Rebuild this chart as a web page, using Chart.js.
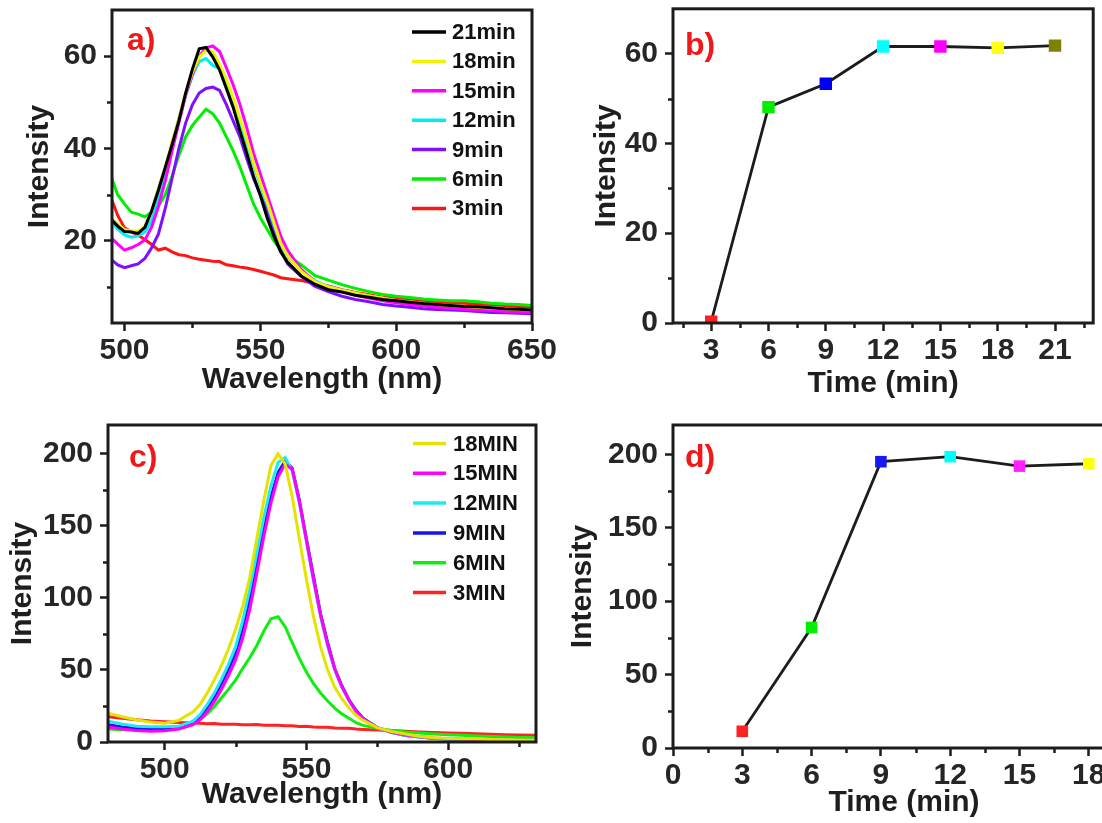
<!DOCTYPE html>
<html>
<head>
<meta charset="utf-8">
<script src="https://cdn.jsdelivr.net/npm/chart.js@4.4.0/dist/chart.umd.min.js"></script>
<style>
  html, body { margin: 0; padding: 0; background: #fff; width: 1102px; height: 823px; overflow: hidden; position: relative; }
  canvas { position: absolute; }
  .tag { position: absolute; color: #f01818; font: bold 32px "Liberation Sans", Arial, sans-serif; line-height: 1; }
</style>
</head>
<body>
<canvas id="chartA" width="560" height="410" style="left:0;top:0"></canvas>
<canvas id="chartB" width="542" height="410" style="left:560px;top:0"></canvas>
<canvas id="chartC" width="560" height="408" style="left:0;top:415px"></canvas>
<canvas id="chartD" width="600" height="408" style="left:560px;top:415px"></canvas>
<div class="tag" style="left:127px;top:23px">a)</div>
<div class="tag" style="left:685px;top:28px">b)</div>
<div class="tag" style="left:129px;top:440px">c)</div>
<div class="tag" style="left:685px;top:440px">d)</div>
<script>
/**
 * Four panels: emission spectra vs time (a, c) and peak intensity vs time (b, d).
 */

// ---- panel a: spectra, 3-21 min ----
const WL_A = [495, 497.5, 500, 502.5, 505, 507.5, 510, 512.5, 515, 517.5, 520, 522.5, 525, 527.5, 530,
  532.5, 535, 537.5, 540, 542.5, 545, 547.5, 550, 552.5, 555, 557.5, 560, 565, 570, 575, 580, 585, 590,
  595, 600, 605, 610, 615, 620, 625, 630, 635, 640, 645, 650];
const A_21MIN = [24.7, 23.2, 22.0, 21.9, 21.6, 22.9, 26.5, 31.0, 35.9, 40.8, 46.0, 52.0, 57.2, 61.6, 61.9,
  59.8, 57.0, 53.0, 48.9, 43.8, 39.0, 34.0, 29.8, 25.0, 21.0, 17.6, 15.4, 12.4, 10.6, 9.4, 8.9, 8.2, 7.8,
  7.3, 7.0, 6.7, 6.4, 6.2, 6.0, 5.8, 5.7, 5.5, 5.3, 5.2, 5.0];
const A_18MIN = [25.0, 23.6, 22.4, 22.2, 22.0, 23.2, 26.5, 31.5, 36.0, 41.5, 46.5, 52.0, 56.5, 59.8, 61.2,
  61.0, 58.2, 55.0, 51.0, 46.5, 42.0, 37.0, 32.5, 28.5, 24.0, 19.5, 16.8, 13.4, 11.2, 10.0, 9.3, 8.7, 8.1,
  7.6, 7.1, 6.8, 6.5, 6.2, 6.0, 5.8, 5.6, 5.4, 5.3, 5.1, 5.0];
const A_15MIN = [20.7, 19.3, 18.0, 18.5, 19.2, 20.2, 23.0, 27.5, 33.0, 39.5, 45.5, 51.5, 56.0, 60.0, 61.8,
  62.2, 61.0, 57.5, 53.8, 49.5, 44.5, 39.0, 34.5, 30.0, 25.5, 21.0, 18.0, 13.8, 11.2, 9.8, 9.0, 8.2, 7.6,
  7.0, 6.6, 6.2, 5.9, 5.6, 5.4, 5.2, 5.0, 4.9, 4.7, 4.6, 4.5];
const A_12MIN = [24.5, 22.5, 21.3, 20.8, 21.1, 21.9, 24.5, 29.5, 35.0, 41.0, 46.5, 51.5, 55.8, 58.8, 59.5,
  58.0, 57.3, 53.5, 49.8, 45.5, 41.0, 36.5, 32.0, 28.0, 23.5, 19.5, 16.5, 13.6, 11.4, 10.1, 9.3, 8.6, 8.0,
  7.5, 7.0, 6.6, 6.3, 6.1, 5.9, 5.7, 5.4, 5.2, 5.0, 4.9, 4.8];
const A_9MIN = [16.0, 14.8, 14.2, 14.6, 15.0, 16.2, 18.5, 21.5, 27.0, 33.5, 40.0, 45.5, 49.5, 52.0, 53.0,
  53.3, 52.6, 49.5, 46.0, 42.5, 37.8, 33.5, 30.0, 26.5, 22.0, 18.0, 15.0, 12.3, 10.2, 9.0, 8.0, 7.3, 6.8,
  6.2, 5.9, 5.6, 5.3, 5.1, 5.0, 4.9, 4.7, 4.5, 4.4, 4.3, 4.2];
const A_6MIN = [34.0, 30.0, 28.0, 26.2, 25.8, 25.2, 26.2, 27.5, 30.0, 34.0, 38.5, 42.5, 45.0, 46.8, 48.5,
  47.5, 45.5, 42.5, 39.5, 36.0, 32.0, 28.0, 25.0, 22.5, 20.0, 18.0, 16.8, 14.8, 12.5, 11.5, 10.5, 9.7, 9.0,
  8.4, 8.0, 7.7, 7.4, 7.2, 7.0, 7.0, 6.8, 6.5, 6.3, 6.2, 6.0];
const A_3MIN = [29.4, 25.5, 22.8, 22.0, 21.2, 20.3, 19.2, 18.0, 18.4, 17.6, 17.0, 16.8, 16.3, 16.0, 15.8,
  15.6, 15.5, 14.8, 14.6, 14.3, 14.1, 13.8, 13.4, 13.0, 12.6, 12.0, 11.8, 11.4, 10.8, 10.2, 9.4, 8.8, 8.3,
  7.8, 7.6, 7.2, 7.0, 6.8, 6.6, 6.5, 6.3, 6.2, 6.0, 5.8, 5.6];
const A_LABELS = ["21min", "18min", "15min", "12min", "9min", "6min", "3min"];
const A_X_TICKS = [500, 550, 600, 650];
const A_X_MINOR = [525, 575, 625];
const A_Y_TICKS = [20, 40, 60];
const A_Y_MINOR = [10, 30, 50];

// ---- panel b: intensity vs time ----
const B_TIME = [3, 6, 9, 12, 15, 18, 21];
const B_INTENSITY = [0.3, 48.1, 53.3, 61.6, 61.6, 61.3, 61.8];
const B_X_TICKS = [3, 6, 9, 12, 15, 18, 21];
const B_X_MINOR = [1.5, 4.5, 7.5, 10.5, 13.5, 16.5, 19.5, 22.5];
const B_Y_TICKS = [0, 20, 40, 60];
const B_Y_MINOR = [10, 30, 50];

// ---- panel c: spectra, 3-18 MIN ----
const WL_C = [480, 485, 490, 495, 500, 505, 510, 512.5, 515, 517.5, 520, 522.5, 525, 527.5, 530, 532.5,
  535, 537.5, 540, 542.5, 545, 547.5, 550, 552.5, 555, 557.5, 560, 562.5, 565, 567.5, 570, 575, 580, 585,
  590, 595, 600, 605, 610, 615, 620, 625, 631];
const C_18MIN = [20.0, 17.5, 15.5, 13.8, 13.0, 15.0, 21.0, 26.0, 34.0, 43.0, 53.0, 64.5, 78.0, 94.0, 114.0,
  141.0, 168.0, 192.0, 200.0, 193.0, 170.0, 141.0, 113.0, 87.0, 66.0, 50.0, 38.0, 30.0, 23.5, 18.5, 15.0,
  10.0, 7.3, 5.5, 3.8, 3.0, 2.5, 2.2, 2.0, 1.8, 1.5, 1.4, 1.2];
const C_15MIN = [10.5, 9.0, 8.0, 7.5, 7.8, 9.0, 12.0, 15.5, 21.0, 28.0, 36.5, 46.0, 57.0, 72.0, 92.0,
  117.0, 143.0, 166.0, 184.0, 193.0, 189.0, 167.0, 140.0, 113.0, 88.0, 67.5, 50.5, 38.5, 29.0, 21.5, 16.2,
  10.0, 6.8, 4.8, 3.6, 2.8, 2.3, 2.0, 1.7, 1.5, 1.3, 1.2, 1.0];
const C_12MIN = [14.5, 12.5, 11.0, 10.5, 10.5, 11.0, 14.5, 19.0, 26.0, 34.0, 43.5, 54.0, 66.0, 84.0, 106.0,
  131.0, 156.0, 178.0, 194.0, 197.5, 188.0, 166.0, 139.0, 112.0, 87.0, 66.5, 50.0, 38.0, 29.0, 21.0, 16.0,
  9.8, 6.6, 4.5, 3.4, 2.6, 2.1, 1.8, 1.5, 1.3, 1.1, 1.0, 0.8];
const C_9MIN = [12.0, 10.5, 9.5, 9.2, 9.3, 10.2, 13.5, 17.5, 24.0, 31.5, 40.5, 50.5, 62.0, 79.0, 100.0,
  124.0, 148.0, 170.0, 187.0, 195.0, 190.0, 168.0, 141.0, 115.0, 89.0, 69.0, 51.0, 39.0, 29.5, 22.0, 16.5,
  10.0, 6.8, 4.5, 3.4, 2.5, 2.0, 1.7, 1.4, 1.2, 1.0, 0.9, 0.7];
const C_6MIN = [9.0, 8.5, 8.5, 8.8, 9.3, 10.5, 12.8, 15.5, 19.5, 24.5, 30.5, 36.5, 43.0, 51.0, 58.5,
  67.0, 77.0, 85.5, 87.0, 80.0, 69.0, 58.0, 48.5, 40.5, 34.0, 28.5, 23.5, 19.5, 16.5, 13.5, 11.5,
  9.5, 8.0, 7.0, 6.2, 5.5, 5.0, 4.6, 4.2, 3.8, 3.5, 3.2, 3.0];
const C_3MIN = [17.5, 16.5, 15.5, 14.5, 14.0, 13.6, 13.2, 13.0, 12.6, 12.8, 12.4, 12.3, 12.4, 12.0, 11.9,
  12.1, 11.7, 11.6, 11.7, 11.2, 11.3, 10.8, 10.9, 10.4, 10.2, 10.3, 9.8, 9.6, 9.5, 9.0, 8.7,
  8.3, 7.9, 7.5, 7.0, 6.6, 6.3, 6.0, 5.7, 5.4, 5.1, 4.9, 4.6];
const C_LABELS = ["18MIN", "15MIN", "12MIN", "9MIN", "6MIN", "3MIN"];
const C_X_TICKS = [500, 550, 600];
const C_X_MINOR = [525, 575, 625];
const C_Y_TICKS = [0, 50, 100, 150, 200];
const C_Y_MINOR = [25, 75, 125, 175];

// ---- panel d: intensity vs time ----
const D_TIME = [3, 6, 9, 12, 15, 18];
const D_INTENSITY = [11.4, 82.1, 195.0, 198.4, 192.0, 193.6];
const D_X_TICKS = [0, 3, 6, 9, 12, 15, 18];
const D_X_MINOR = [1.5, 4.5, 7.5, 10.5, 13.5, 16.5, 19.5];
const D_Y_TICKS = [0, 50, 100, 150, 200];
const D_Y_MINOR = [25, 75, 125, 175];

// ---- styles ----
const A_COLORS = ["#000000", "#f2f200", "#ff00ff", "#00eeee", "#7f10ff", "#00ee00", "#ff1414"];
const C_COLORS = ["#e4e400", "#ff00ff", "#1eeaf0", "#1414ee", "#10ee10", "#ff2222"];
const B_MARKERS = ["#ff2222", "#00ee00", "#0000f0", "#00ffff", "#ff00ff", "#ffff10", "#7f7f00"];
const D_MARKERS = ["#ff2222", "#00ee00", "#1a1af0", "#00ffff", "#ff22ff", "#ffff10"];

const FONT_FAMILY = "'Liberation Sans', Arial, sans-serif";
const INK = "#1c1c1c";

Chart.defaults.font.family = FONT_FAMILY;
Chart.defaults.font.weight = "bold";
Chart.defaults.color = "#2a2a2a";

/**
 * Box, minor ticks and an in-plot legend.
 */
const panelDecor = {
  id: "panelDecor",
  afterDraw(chart, args, opts) {
    const ctx = chart.ctx;
    const area = chart.chartArea;
    const xs = chart.scales.x;
    const ys = chart.scales.y;
    ctx.save();
    ctx.strokeStyle = INK;
    ctx.lineWidth = 2.5;
    (opts.xMinor || []).forEach((v) => {
      const px = Math.round(xs.getPixelForValue(v)) + 0.5;
      ctx.beginPath();
      ctx.moveTo(px, area.bottom);
      ctx.lineTo(px, area.bottom + 5);
      ctx.stroke();
    });
    (opts.yMinor || []).forEach((v) => {
      const py = Math.round(ys.getPixelForValue(v)) + 0.5;
      ctx.beginPath();
      ctx.moveTo(area.left, py);
      ctx.lineTo(area.left - 5, py);
      ctx.stroke();
    });
    ctx.lineWidth = 3;
    ctx.strokeRect(area.left, area.top, area.right - area.left, area.bottom - area.top);

    if (opts.legend) {
      const L = opts.legend;
      ctx.font = "bold 22px " + FONT_FAMILY;
      ctx.textBaseline = "middle";
      ctx.textAlign = "left";
      chart.data.datasets.forEach((ds, i) => {
        const y = L.top + i * L.step;
        ctx.strokeStyle = ds.borderColor;
        ctx.lineWidth = 3.5;
        ctx.beginPath();
        ctx.moveTo(L.x0, y);
        ctx.lineTo(L.x1, y);
        ctx.stroke();
        ctx.fillStyle = "#111";
        ctx.fillText(ds.label, L.tx, y + 1);
      });
    }
    ctx.restore();
  }
};

function makeAxis(position, min, max, tickList, size, title, titlePad) {
  return {
    type: "linear",
    position: position,
    min: min,
    max: max,
    afterBuildTicks: (scale) => {
      scale.ticks = tickList.map((v) => ({ value: v }));
    },
    afterFit: (scale) => {
      if (position === "left") {
        scale.width = size;
      } else {
        scale.height = size;
      }
      scale.paddingLeft = 0;
      scale.paddingRight = 0;
      scale.paddingTop = 0;
      scale.paddingBottom = 0;
    },
    grid: {
      drawOnChartArea: false,
      drawTicks: true,
      tickLength: 8,
      tickWidth: 2.5,
      tickColor: INK,
      color: INK
    },
    border: { display: false },
    ticks: {
      autoSkip: false,
      maxRotation: 0,
      padding: position === "left" ? 7 : 2,
      color: "#262626",
      font: { size: 30, weight: "bold" }
    },
    title: {
      display: true,
      text: title,
      color: "#1e1e1e",
      font: { size: 30, weight: "bold" },
      padding: position === "left" ? { top: titlePad } : { bottom: titlePad }
    }
  };
}

function toPoints(xList, yList) {
  return xList.map((x, i) => ({ x: x, y: yList[i] }));
}

function spectrumChart(canvasId, wl, seriesList, labels, colors, cfg) {
  const datasets = seriesList.map((series, i) => ({
    label: labels[i],
    data: toPoints(wl, series),
    borderColor: colors[i],
    borderWidth: 3,
    pointRadius: 0,
    tension: 0,
    fill: false
  }));

  return new Chart(document.getElementById(canvasId).getContext("2d"), {
    type: "line",
    data: { datasets: datasets },
    options: {
      responsive: false,
      animation: false,
      devicePixelRatio: 1,
      layout: { padding: cfg.padding },
      plugins: {
        legend: { display: false },
        tooltip: { enabled: false },
        panelDecor: { xMinor: cfg.xMinor, yMinor: cfg.yMinor, legend: cfg.legend }
      },
      scales: {
        x: makeAxis("bottom", cfg.xMin, cfg.xMax, cfg.xTicks, cfg.xSize, "Wavelength (nm)", cfg.xTitlePad),
        y: makeAxis("left", cfg.yMin, cfg.yMax, cfg.yTicks, cfg.ySize, "Intensity", cfg.yTitlePad)
      }
    },
    plugins: [panelDecor]
  });
}

function timeChart(canvasId, times, values, markers, cfg) {
  return new Chart(document.getElementById(canvasId).getContext("2d"), {
    type: "line",
    data: {
      datasets: [{
        label: "Intensity",
        data: toPoints(times, values),
        borderColor: INK,
        borderWidth: 2.8,
        tension: 0,
        fill: false,
        clip: 0,
        pointStyle: "rect",
        pointRadius: cfg.markerRadius,
        pointBorderWidth: 0,
        pointBackgroundColor: markers,
        pointBorderColor: markers
      }]
    },
    options: {
      responsive: false,
      animation: false,
      devicePixelRatio: 1,
      layout: { padding: cfg.padding },
      plugins: {
        legend: { display: false },
        tooltip: { enabled: false },
        panelDecor: { xMinor: cfg.xMinor, yMinor: cfg.yMinor }
      },
      scales: {
        x: makeAxis("bottom", cfg.xMin, cfg.xMax, cfg.xTicks, cfg.xSize, "Time (min)", cfg.xTitlePad),
        y: makeAxis("left", cfg.yMin, cfg.yMax, cfg.yTicks, cfg.ySize, "Intensity", cfg.yTitlePad)
      }
    },
    plugins: [panelDecor]
  });
}

// Panel a
spectrumChart("chartA", WL_A,
  [A_21MIN, A_18MIN, A_15MIN, A_12MIN, A_9MIN, A_6MIN, A_3MIN], A_LABELS, A_COLORS, {
    padding: { top: 10, right: 28, left: 0, bottom: 0 },
    xMin: 495.4, xMax: 650, xTicks: A_X_TICKS, xMinor: A_X_MINOR, xSize: 87, xTitlePad: 12,
    yMin: 2.2, yMax: 70, yTicks: A_Y_TICKS, yMinor: A_Y_MINOR, ySize: 112, yTitlePad: 22,
    legend: { top: 32, step: 29.4, x0: 412, x1: 446, tx: 452 }
  });

// Panel b
timeChart("chartB", B_TIME, B_INTENSITY, B_MARKERS, {
  padding: { top: 7, right: 2, left: 0, bottom: 0 },
  xMin: 1, xMax: 23, xTicks: B_X_TICKS, xMinor: B_X_MINOR, xSize: 87, xTitlePad: 8,
  yMin: 0, yMax: 70, yTicks: B_Y_TICKS, yMinor: B_Y_MINOR, ySize: 113, yTitlePad: 29,
  markerRadius: 8.8
});

// Panel c
spectrumChart("chartC", WL_C,
  [C_18MIN, C_15MIN, C_12MIN, C_9MIN, C_6MIN, C_3MIN], C_LABELS, C_COLORS, {
    padding: { top: 10, right: 24, left: 0, bottom: 0 },
    xMin: 480, xMax: 631, xTicks: C_X_TICKS, xMinor: C_X_MINOR, xSize: 81, xTitlePad: 10,
    yMin: 0, yMax: 220, yTicks: C_Y_TICKS, yMinor: C_Y_MINOR, ySize: 108, yTitlePad: 5,
    legend: { top: 28.5, step: 29.8, x0: 413, x1: 446, tx: 453 }
  });

// Panel d
timeChart("chartD", D_TIME, D_INTENSITY, D_MARKERS, {
  padding: { top: 10, right: 25, left: 0, bottom: 0 },
  xMin: 0, xMax: 20, xTicks: D_X_TICKS, xMinor: D_X_MINOR, xSize: 75, xTitlePad: 2,
  yMin: 0, yMax: 220, yTicks: D_Y_TICKS, yMinor: D_Y_MINOR, ySize: 113, yTitlePad: 5,
  markerRadius: 8.2
});
</script>
</body>
</html>
